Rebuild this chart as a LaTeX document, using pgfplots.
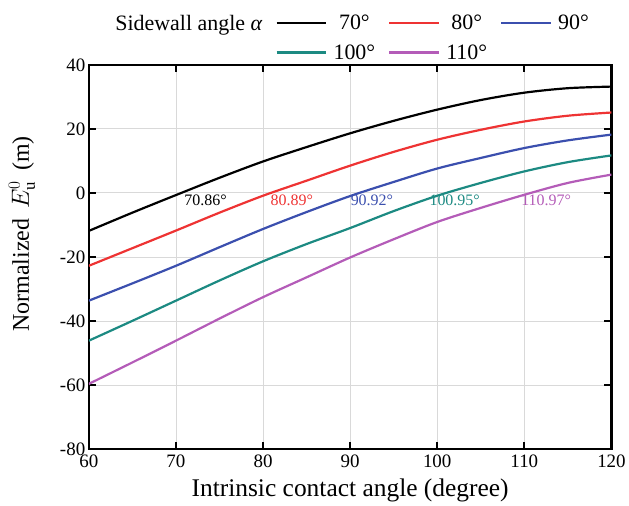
\documentclass[border=0pt]{standalone}
\usepackage{pgfplots}
\pgfplotsset{compat=1.18}
\usepackage{fontspec}
\setmainfont{Liberation Serif}
\definecolor{cred}{HTML}{EE3333}
\definecolor{cblue}{HTML}{3B4FAE}
\definecolor{cteal}{HTML}{1C8A82}
\definecolor{cmag}{HTML}{B45CB8}
\begin{document}
\begin{tikzpicture}
\begin{axis}[
  name=ax,
  scale only axis,
  width=524pt, height=385pt,
  xmin=60, xmax=120, ymin=-80, ymax=40,
  xtick={60,70,...,120}, ytick={-80,-60,...,40},
  grid=major, major grid style={gray!30, line width=0.7pt},
  axis line style={line width=2.3pt},
  tick style={line width=1.8pt, black},
  tick align=inside, major tick length=7pt,
  /pgf/number format/assume math mode=true,
  ticklabel style={font=\fontsize{19}{19}\selectfont},
  xticklabel style={yshift=-3pt},
  yticklabel style={xshift=0pt},
  xlabel={Intrinsic contact angle (degree)},
  ylabel={Normalized \,$E_{\mathrm{u}}^{0}$\, (m)},
  xlabel style={font=\fontsize{25.5}{25.5}\selectfont, yshift=-4pt},
  every axis y label/.style={at={(axis description cs:0,0.56)}, xshift=-67pt, rotate=90, anchor=center, font=\fontsize{24}{24}\selectfont},
  legend columns=4,
  legend style={draw=none, fill=none, at={(0.5,1.0)}, anchor=south, yshift=1pt,
    font=\fontsize{22}{22}\selectfont, column sep=4pt, row sep=9pt, inner sep=1pt,
    /tikz/every even column/.append style={column sep=11pt}},
  legend image code/.code={\draw[#1, line width=2.2pt] (0pt,0pt) -- (50pt,0pt);},
]
\addlegendimage{empty legend}\addlegendentry{Sidewall angle \textit{α}}
\addlegendimage{black}\addlegendentry{70°}
\addlegendimage{cred}\addlegendentry{80°}
\addlegendimage{cblue}\addlegendentry{90°}
\addlegendimage{empty legend}\addlegendentry{}
\addlegendimage{cteal}\addlegendentry{100°}
\addlegendimage{cmag}\addlegendentry{110°}

\addplot[black, line width=2.2pt, smooth, forget plot] coordinates {
(60,-11.9) (65,-6.2) (70,-0.7) (75,4.7) (80,9.8) (85,14.3) (90,18.6) (95,22.5) (100,26.0) (105,29.0) (110,31.3) (115,32.7) (120,33.2)};
\addplot[cred, line width=2.2pt, smooth, forget plot] coordinates {
(60,-22.8) (65,-17.3) (70,-11.8) (75,-6.2) (80,-0.9) (85,3.8) (90,8.5) (95,12.8) (100,16.6) (105,19.7) (110,22.3) (115,24.1) (120,25.1)};
\addplot[cblue, line width=2.2pt, smooth, forget plot] coordinates {
(60,-33.7) (65,-28.3) (70,-22.8) (75,-17.0) (80,-11.3) (85,-6.0) (90,-1.0) (95,3.4) (100,7.6) (105,10.9) (110,14.0) (115,16.4) (120,18.2)};
\addplot[cteal, line width=2.2pt, smooth, forget plot] coordinates {
(60,-46.2) (65,-40.0) (70,-33.7) (75,-27.4) (80,-21.4) (85,-16.0) (90,-11.0) (95,-5.7) (100,-0.9) (105,3.1) (110,6.7) (115,9.6) (120,11.7)};
\addplot[cmag, line width=2.2pt, smooth, forget plot] coordinates {
(60,-59.7) (65,-53.0) (70,-46.2) (75,-39.3) (80,-32.6) (85,-26.4) (90,-20.2) (95,-14.5) (100,-9.1) (105,-4.7) (110,-0.6) (115,3.1) (120,5.7)};

\begin{scope}[every node/.style={font=\fontsize{16}{16}\selectfont}]
\node[black] at (axis cs:73.4,-2.3) {70.86°};
\node[cred] at (axis cs:83.3,-2.3) {80.89°};
\node[cblue] at (axis cs:92.5,-2.3) {90.92°};
\node[cteal] at (axis cs:102.0,-2.3) {100.95°};
\node[cmag] at (axis cs:112.5,-2.3) {110.97°};
\end{scope}
\end{axis}
\path ([xshift=-89pt,yshift=-52pt]ax.south west) rectangle ([xshift=17pt,yshift=65pt]ax.north east);
\end{tikzpicture}
\end{document}
